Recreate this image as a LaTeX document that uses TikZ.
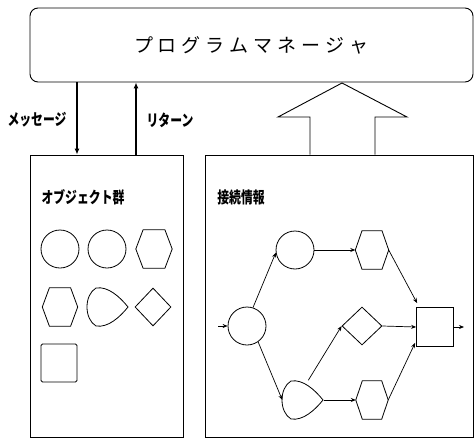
\documentclass[tikz,border=0pt]{standalone}
\usepackage{fontspec}
\newfontfamily\jp{Noto Sans CJK JP}
\newfontfamily\jpc[FakeStretch=0.74]{Noto Sans CJK JP}
\usetikzlibrary{shapes.geometric,arrows.meta,calc}
\tikzset{
  shp/.style={draw, line width=0.8pt},
  circ/.style={shp, circle, minimum size=38pt, inner sep=0pt},
  frame/.style={draw, line width=0.9pt, inner sep=0pt},
  lbl/.style={font=\jpc\fontsize{16pt}{16pt}\selectfont\bfseries, inner sep=0pt},
  hexbox/.style={draw=none, inner sep=0pt, minimum width=#1, minimum height=38pt},
  tearbox/.style={draw=none, inner sep=0pt, minimum width=41pt, minimum height=39pt},
  dia/.style={shp, diamond, inner sep=0pt},
  sq/.style={shp, rectangle, inner sep=0pt},
  thickarr/.style={line width=1.6pt, -{Latex[length=6pt,width=5pt]}},
  conn/.style={line width=0.7pt, -{Stealth[length=5pt,width=4pt]}},
}
\newcommand\hexdraw[1]{\draw[shp] (#1.west) -- ($(#1.north west)!0.2!(#1.north east)$) -- ($(#1.north west)!0.8!(#1.north east)$) -- (#1.east) -- ($(#1.south west)!0.8!(#1.south east)$) -- ($(#1.south west)!0.2!(#1.south east)$) -- cycle;}
\newcommand\teardraw[1]{\draw[shp, shift={(#1.center)}] (20,0) .. controls (12,-10) and (0,-21) .. (-12,-19) .. controls (-24,-12) and (-24,12) .. (-12,19) .. controls (0,21) and (12,10) .. (20,0) -- cycle;}
\newcommand\titlesp{\hspace{5pt}}
\begin{document}
\begin{tikzpicture}[x=1pt,y=-1pt]
\useasboundingbox (0,0) rectangle (474,439);
% top box
\node[frame, rounded corners=8pt, minimum width=443pt, minimum height=74pt,
      font=\jp\fontsize{19pt}{19pt}\selectfont] (pm) at (251.5,45)
  {プ\titlesp ロ\titlesp グ\titlesp ラ\titlesp ム\titlesp マ\titlesp ネ\titlesp ー\titlesp ジ\titlesp ャ};
% lower boxes
\node[frame, minimum width=153pt, minimum height=282pt] (L) at (106.5,296) {};
\node[frame, minimum width=268pt, minimum height=282pt] (R) at (339,296) {};
% message / return arrows
\coordinate (mx) at (77,0);
\coordinate (rx) at (136,0);
\draw[thickarr] (pm.south -| mx) -- (L.north -| mx);
\draw[thickarr] (L.north -| rx) -- (pm.south -| rx);
\node[lbl] (msg) at (37,120) {メッセージ};
\node[lbl] (ret) at (170,120) {リターン};
% big hollow arrow
\coordinate (ha) at (342,83);
\draw[line width=0.9pt, line join=miter] (R.north -| 310,0) -- (310,117) -- (278,117) -- (ha) -- (407,117) -- (375,117) -- (R.north -| 375,0);
% left box
\node[lbl] (objt) at (83,197) {オブジェクト群};
\node[circ] (o1) at (60,249) {};
\node[circ] (o2) at (107,249) {};
\node[hexbox=36pt] (o3) at (154,249) {}; \hexdraw{o3}
\node[hexbox=35pt] (o4) at (60,307) {}; \hexdraw{o4}
\node[tearbox] (o5) at (108,307) {}; \teardraw{o5}
\node[dia, minimum width=36pt, minimum height=38pt] (o6) at (153,307) {};
\node[sq, rounded corners=1.5pt, minimum width=36pt, minimum height=38pt] (o7) at (59,363) {};
% right box
\node[lbl] (cont) at (241,197) {接続情報};
\node[circ] (A) at (247,326) {};
\node[circ] (B) at (295,250) {};
\node[hexbox=33pt] (C) at (372,250) {}; \hexdraw{C}
\node[dia, minimum width=40pt, minimum height=38pt] (D) at (362,326) {};
\node[sq, minimum width=37pt, minimum height=39pt] (E) at (435,327) {};
\node[tearbox] (F) at (303,400) {}; \teardraw{F}
\node[hexbox=32pt] (G) at (372,400) {}; \hexdraw{G}
\coordinate (in) at (218,326);
\coordinate (out) at (464,327);
\draw[conn] (in) -- (A.west);
\draw[conn] (A.72) -- (B.188);
\draw[conn] (B.east) -- (C.west);
\draw[conn] (C.east) -- ($(E.north west)+(1,-4)$);
\draw[conn] (A.-55) -- (F.west);
\draw[conn] (F.75) -- (D.west);
\draw[conn] (D.east) -- (E.west);
\draw[conn] (F.east) -- (G.west);
\draw[conn] (G.east) -- ($(E.south west)+(-1,-4)$);
\draw[conn] (E.east) -- (out);
\end{tikzpicture}
\end{document}
